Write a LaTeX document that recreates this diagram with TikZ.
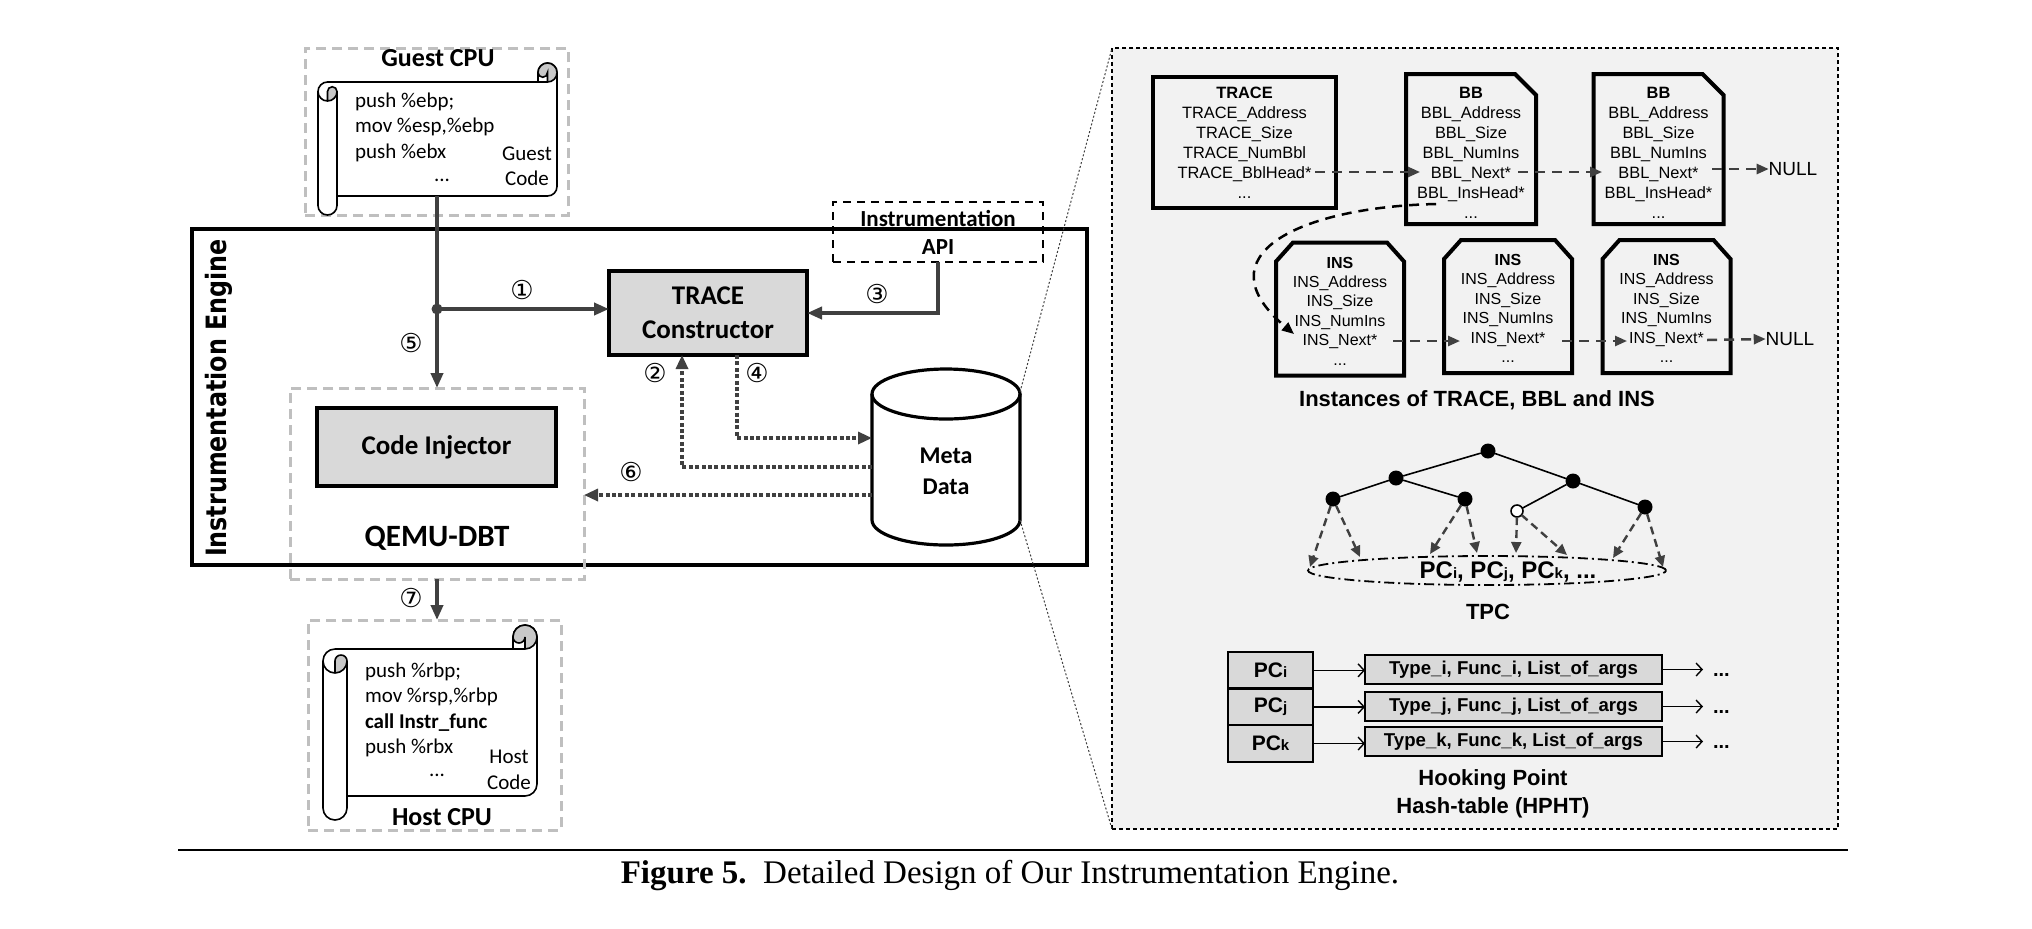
\documentclass[tikz,border=0pt]{standalone}
\usepackage{fontspec}
\setmainfont{Carlito}
\newfontfamily\arialf{Liberation Sans}
\newfontfamily\timesf{Liberation Serif}
\newfontfamily\dejaf{DejaVu Sans}
\newfontfamily\engf[FakeStretch=0.85]{DejaVu Sans}
\usetikzlibrary{arrows.meta,shapes.geometric}
\definecolor{agray}{HTML}{404040}
\definecolor{boxgray}{HTML}{D9D9D9}
\definecolor{dashgray}{HTML}{BFBFBF}
\definecolor{panelbg}{HTML}{F2F2F2}
\definecolor{curlgray}{HTML}{C8C8C8}
\newcommand{\smallsub}[1]{{\fontsize{7.5}{7.5}\selectfont #1}}
\newcommand{\drawscroll}[5]{%
  \pgfmathsetmacro{\scrL}{#1}\pgfmathsetmacro{\scrT}{#2}%
  \pgfmathsetmacro{\scrR}{#3}\pgfmathsetmacro{\scrB}{#4}%
  \pgfmathsetmacro{\scrC}{#5}\pgfmathsetmacro{\scrH}{#5/2}%
  \pgfmathsetmacro{\scrRh}{#5/4}\pgfmathsetmacro{\scrRq}{#5/8}%
  \draw[scrollline, fill=white] (\scrL,\scrT+\scrC+\scrH) arc[start angle=180,end angle=90,radius=\scrRh pt]
    -- (\scrR-\scrC,\scrT+\scrC) -- (\scrR-\scrC,\scrT+\scrH) arc[start angle=180,end angle=0,radius=\scrRh pt]
    -- (\scrR,\scrB-\scrC-\scrH) arc[start angle=0,end angle=-90,radius=\scrRh pt]
    -- (\scrL+\scrC,\scrB-\scrC) -- (\scrL+\scrC,\scrB-\scrH) arc[start angle=0,end angle=-180,radius=\scrRh pt] -- cycle;
  \fill[curlgray] (\scrR-\scrH,\scrT+\scrC) arc[start angle=-90,end angle=180,radius=\scrRh pt] arc[start angle=180,end angle=360,radius=\scrRq pt] -- cycle;
  \fill[curlgray] (\scrL+\scrH,\scrT+2*\scrC) arc[start angle=-90,end angle=0,radius=\scrRh pt] arc[start angle=0,end angle=180,radius=\scrRq pt] -- cycle;
  \draw[scrollline] (\scrR-\scrC,\scrT+\scrH) arc[start angle=180,end angle=0,radius=\scrRh pt];
  \draw[scrollline] (\scrR-\scrC,\scrT+\scrC) -- (\scrR-\scrH,\scrT+\scrC) arc[start angle=-90,end angle=0,radius=\scrRh pt];
  \draw[scrollline] (\scrR-\scrH,\scrT+\scrC) -- (\scrR-\scrH,\scrT+\scrH) arc[start angle=0,end angle=-180,radius=\scrRq pt];
  \draw[scrollline] (\scrL+\scrH,\scrT+2*\scrC) -- (\scrL+\scrH,\scrT+\scrC+\scrH) arc[start angle=180,end angle=0,radius=\scrRq pt] arc[start angle=0,end angle=-180,radius=\scrRh pt];
  \draw[scrollline] (\scrL+\scrC,\scrT+\scrC+\scrH) -- (\scrL+\scrC,\scrB-\scrC);
}
\newcommand{\bbshape}[1]{%
  \draw[panelbox] (#1.south west) -- (#1.north west) -- ([xshift=-10.5pt]#1.north east) -- ([yshift=-10.5pt]#1.north east) -- (#1.south east) -- cycle;}
\newcommand{\insshape}[1]{%
  \draw[panelbox] (#1.south west) -- ([yshift=-9.5pt]#1.north west) -- ([xshift=8.5pt]#1.north west) -- ([xshift=-8.5pt]#1.north east) -- ([yshift=-9.5pt]#1.north east) -- (#1.south east) -- cycle;}
\begin{document}
\begin{tikzpicture}[x=0.5pt,y=-0.5pt,
  every node/.style={inner sep=0pt,outer sep=0pt},
  scrollline/.style={draw=black,line width=0.8pt},
  graydash/.style={draw=dashgray,line width=1.5pt,dash pattern=on 5pt off 3pt},
  blackbox/.style={draw=black,line width=2pt,fill=boxgray},
  darkline/.style={draw=agray,line width=2pt},
  darkarrow/.style={darkline,-{Triangle[length=7.5pt,width=6pt]}},
  dotarrow/.style={draw=agray,line width=1.6pt,dash pattern=on 2pt off 1.2pt,-{Triangle[length=7pt,width=6pt]}},
  circnum/.style={font=\dejaf\fontsize{13}{13}\selectfont},
  codetxt/.style={font=\fontsize{10.5}{12.75}\selectfont,align=left},
  cpulbl/.style={font=\bfseries\fontsize{13}{13}\selectfont},
  thindot/.style={draw=black!75,line width=0.5pt,dash pattern=on 1pt off 1pt},
  panelbox/.style={draw=black,line width=2pt,fill=panelbg,line join=miter},
  paneltxt/.style={align=center,font=\arialf\fontsize{8.2}{10}\selectfont},
  instxt/.style={align=center,font=\arialf\fontsize{8}{9.7}\selectfont},
  bbframe/.style={minimum width=65pt,minimum height=75pt},
  insframe/.style={minimum width=64pt,minimum height=66.5pt},
  ptrarrow/.style={draw=agray,line width=1.25pt,dash pattern=on 5pt off 3.5pt,-{Triangle[length=6pt,width=5pt]}},
  nulltxt/.style={font=\arialf\fontsize{9.5}{9.5}\selectfont},
  arialbold/.style={font=\arialf\bfseries\fontsize{11}{14}\selectfont,align=center},
  treedot/.style={circle,fill=black,minimum size=7.5pt},
  treeopen/.style={circle,draw=black,fill=white,line width=0.8pt,minimum size=6pt},
  treeedge/.style={draw=black,line width=0.8pt},
  tpcarrow/.style={draw=agray,line width=1.2pt,dash pattern=on 4pt off 2.5pt,-{Triangle[length=5.5pt,width=5pt]}},
  pccell/.style={draw=black,line width=1.2pt,fill=boxgray,minimum width=42.5pt,minimum height=18.3pt,font=\arialf\bfseries\fontsize{10.5}{10.5}\selectfont},
  typebox/.style={draw=black,line width=1.2pt,fill=boxgray,minimum width=148.5pt,minimum height=14.5pt,font=\arialf\bfseries\fontsize{9.3}{9.3}\selectfont},
  thinarrow/.style={draw=black,line width=0.7pt,-{Straight Barb[length=3pt,width=6.5pt]}},
  hdots/.style={font=\arialf\bfseries\fontsize{10}{10}\selectfont,anchor=west}
]
\useasboundingbox (0,0) rectangle (2032,928);
\fill[white] (0,0) rectangle (2032,928);

% ---------- right panel ----------
\node[draw=black,line width=0.6pt,dash pattern=on 2pt off 1.5pt,fill=panelbg,minimum width=363pt,minimum height=390.5pt] (panel) at (1475,438.5) {};

% ---------- instrumentation engine ----------
\node[draw=black,line width=2pt,minimum width=447.5pt,minimum height=168pt] (engine) at (639.5,397) {};
\node[rotate=90,font=\engf\bfseries\fontsize{14}{14}\selectfont] (englbl) at (219,398) {Instrumentation Engine};

% guest cpu
\node[graydash,minimum width=131.5pt,minimum height=83.5pt] (guestbox) at (436.5,131.5) {};
\drawscroll{318}{63}{557}{215}{19}
\node[cpulbl] (guestlbl) at (438,58) {Guest CPU};
\node[codetxt,anchor=west] (gcode) at (355,127) {push \%ebp;\\mov \%esp,\%ebp\\push \%ebx};
\node[codetxt] (gdots) at (442,180) {...};
\node[codetxt,align=center] (gcodelbl) at (527,166) {Guest\\Code};

% host cpu
\node[graydash,minimum width=126.5pt,minimum height=105pt] (hostbox) at (434.5,725) {};
\drawscroll{323}{625}{537}{820}{24}
\node[codetxt,anchor=west] (hcode) at (365,710) {push \%rbp;\\mov \%rsp,\%rbp\\\textbf{call Instr\_func}\\push \%rbx};
\node[codetxt] (hdotsn) at (437,775) {...};
\node[codetxt,align=center] (hcodelbl) at (509,770) {Host\\Code};
\node[cpulbl] (hostlbl) at (442,817) {Host CPU};

% qemu
\node[graydash,minimum width=147pt,minimum height=95.5pt] (qemu) at (437,483.5) {};
\node[blackbox,minimum width=119.5pt,minimum height=39pt,font=\bfseries\fontsize{13.5}{13.5}\selectfont] (inj) at (436.5,447) {Code Injector};
\node[font=\bfseries\fontsize{15.5}{15.5}\selectfont] (qemulbl) at (437,538) {QEMU-DBT};

% trace constructor and api
\node[blackbox,minimum width=99pt,minimum height=42pt,font=\bfseries\fontsize{13.5}{17}\selectfont,align=center] (trace) at (708,313) {TRACE\\Constructor};
\node[draw=black,line width=1pt,dash pattern=on 4pt off 3pt,minimum width=105pt,minimum height=30pt,font=\bfseries\fontsize{11.5}{14}\selectfont,align=center] (api) at (938,232) {Instrumentation\\API};

% meta data cylinder
\draw[draw=black,line width=1.6pt,fill=white] (872,394) -- (872,520) arc[start angle=180,end angle=360,x radius=37pt,y radius=12.5pt] -- (1020,394) arc[start angle=0,end angle=180,x radius=37pt,y radius=12.5pt] -- cycle;
\draw[draw=black,line width=1.6pt] (872,394) arc[start angle=180,end angle=360,x radius=37pt,y radius=12.5pt];
\node[font=\bfseries\fontsize{12}{15.5}\selectfont,align=center] (meta) at (946,471) {Meta\\Data};

% connectors left
\coordinate (gs) at (437,196);
\node[circle,fill=agray,minimum size=5.5pt] (jdot) at (437,309) {};
\draw[darkline] (gs) -- (jdot.center);
\draw[darkarrow] (jdot.center) -- (qemu.north);
\draw[darkarrow] (jdot.center) -- (jdot.center -| trace.west);
\draw[darkarrow] (api.south) |- (trace.east);
\coordinate (m2) at (872,467);
\coordinate (m4) at (872,438);
\coordinate (m6) at (872,495);
\draw[dotarrow] (m2) -| ([xshift=-13pt]trace.south);
\draw[dotarrow] ([xshift=14.5pt]trace.south) |- (m4);
\draw[dotarrow] (m6) -- (m6 -| qemu.east);
\draw[darkarrow] (qemu.south) -- (qemu.south |- hostbox.north);

\node[circnum] (c1) at (522,290) {①};
\node[circnum] (c2) at (655,373) {②};
\node[circnum] (c3) at (877,294) {③};
\node[circnum] (c4) at (757,373) {④};
\node[circnum] (c5) at (411,343) {⑤};
\node[circnum] (c6) at (631,472) {⑥};
\node[circnum] (c7) at (411,598) {⑦};

% zoom lines
\coordinate (cyltop) at (1020,392);
\coordinate (cylbot) at (1020,520);
\draw[thindot] (cyltop) -- (panel.north west);
\draw[thindot] (cylbot) -- (panel.south west);

% ---------- panel contents ----------
\node[panelbox,minimum width=91.5pt,minimum height=65.5pt,paneltxt] (tracebox) at (1244.5,142.5) {\textbf{TRACE}\\TRACE\_Address\\TRACE\_Size\\TRACE\_NumBbl\\TRACE\_BblHead*\\...};
\node[bbframe] (bb1) at (1471,149) {};
\bbshape{bb1}
\node[paneltxt] (bb1txt) at (1471,153) {\textbf{BB}\\BBL\_Address\\BBL\_Size\\BBL\_NumIns\\BBL\_Next*\\BBL\_InsHead*\\...};
\node[bbframe] (bb2) at (1658.5,149) {};
\bbshape{bb2}
\node[paneltxt] (bb2txt) at (1658.5,153) {\textbf{BB}\\BBL\_Address\\BBL\_Size\\BBL\_NumIns\\BBL\_Next*\\BBL\_InsHead*\\...};
\node[nulltxt] (null1) at (1793,169) {NULL};
\node[insframe] (ins1) at (1340,309) {};
\insshape{ins1}
\node[instxt] (ins1txt) at (1340,311) {\textbf{INS}\\INS\_Address\\INS\_Size\\INS\_NumIns\\INS\_Next*\\...};
\node[insframe] (ins2) at (1508,306.5) {};
\insshape{ins2}
\node[instxt] (ins2txt) at (1508,308.5) {\textbf{INS}\\INS\_Address\\INS\_Size\\INS\_NumIns\\INS\_Next*\\...};
\node[insframe] (ins3) at (1666.5,306.5) {};
\insshape{ins3}
\node[instxt] (ins3txt) at (1666.5,308.5) {\textbf{INS}\\INS\_Address\\INS\_Size\\INS\_NumIns\\INS\_Next*\\...};
\node[nulltxt] (null2) at (1790,339) {NULL};

\coordinate (p1s) at (1315,172); \coordinate (p1e) at (1420,172);
\coordinate (p2s) at (1518,172); \coordinate (p2e) at (1602,172);
\coordinate (p3s) at (1712,169);
\coordinate (p4s) at (1436,204); \coordinate (p4e) at (1294,334);
\coordinate (p5s) at (1393,341); \coordinate (p5e) at (1460,341);
\coordinate (p6s) at (1562,341); \coordinate (p6e) at (1627,341);
\coordinate (p7s) at (1707,340);
\draw[ptrarrow] (p1s) -- (p1e);
\draw[ptrarrow] (p2s) -- (p2e);
\draw[ptrarrow] (p3s) -- (null1.west);
\draw[ptrarrow,draw=black] (p4s) .. controls (1300,207) and (1200,255) .. (p4e);
\draw[ptrarrow] (p5s) -- (p5e);
\draw[ptrarrow] (p6s) -- (p6e);
\draw[ptrarrow] (p7s) -- (null2.west);
\node[arialbold] (instlbl) at (1477,400) {Instances of TRACE, BBL and INS};

% tree
\node[ellipse,draw=black,line width=0.9pt,dash pattern=on 5pt off 2pt on 1pt off 2pt,minimum width=179pt,minimum height=14.5pt] (tpcell) at (1487,570.5) {};
\node[font=\arialf\bfseries\fontsize{12}{12}\selectfont] (pclist) at (1508,572) {PC\smallsub{i}, PC\smallsub{j}, PC\smallsub{k}, ...};
\node[treedot] (r0) at (1488,451) {};
\node[treedot] (rL) at (1396,478) {};
\node[treedot] (rR) at (1573,481) {};
\node[treedot] (rLL) at (1333,499) {};
\node[treedot] (rLR) at (1465,499) {};
\node[treeopen] (rRL) at (1517,511) {};
\node[treedot] (rRR) at (1645,507) {};
\draw[treeedge] (r0) -- (rL);
\draw[treeedge] (r0) -- (rR);
\draw[treeedge] (rL) -- (rLL);
\draw[treeedge] (rL) -- (rLR);
\draw[treeedge] (rR) -- (rRL);
\draw[treeedge] (rR) -- (rRR);
\coordinate (e1) at (1310,567); \coordinate (e2) at (1360,557);
\coordinate (e3) at (1430,554); \coordinate (e4) at (1477,553);
\coordinate (e5) at (1516,553); \coordinate (e6) at (1567,555);
\coordinate (e7) at (1613,558); \coordinate (e8) at (1663,567);
\draw[tpcarrow] (rLL) -- (e1);
\draw[tpcarrow] (rLL) -- (e2);
\draw[tpcarrow] (rLR) -- (e3);
\draw[tpcarrow] (rLR) -- (e4);
\draw[tpcarrow] (rRL) -- (e5);
\draw[tpcarrow] (rRL) -- (e6);
\draw[tpcarrow] (rRR) -- (e7);
\draw[tpcarrow] (rRR) -- (e8);
\node[arialbold] (tpclbl) at (1488,612) {TPC};

% hash table
\node[pccell] (pci) at (1270.5,670.3) {PC\smallsub{i}};
\node[pccell] (pcj) at (1270.5,706.9) {PC\smallsub{j}};
\node[pccell] (pck) at (1270.5,743.5) {PC\smallsub{k}};
\node[typebox] (typei) at (1513.5,669.5) {Type\_i, Func\_i, List\_of\_args};
\node[typebox] (typej) at (1513.5,706.5) {Type\_j, Func\_j, List\_of\_args};
\node[typebox] (typek) at (1513.5,741.5) {Type\_k, Func\_k, List\_of\_args};
\node[hdots] (dti) at (1713,675) {...};
\node[hdots] (dtj) at (1713,712) {...};
\node[hdots] (dtk) at (1713,747) {...};
\draw[thinarrow] (pci.east) -- (pci.east -| typei.west);
\draw[thinarrow] (pcj.east) -- (pcj.east -| typej.west);
\draw[thinarrow] (pck.east) -- (pck.east -| typek.west);
\draw[thinarrow,shorten >=5pt] (typei.east) -- (typei.east -| dti.west);
\draw[thinarrow,shorten >=5pt] (typej.east) -- (typej.east -| dtj.west);
\draw[thinarrow,shorten >=5pt] (typek.east) -- (typek.east -| dtk.west);
\node[arialbold] (hphtlbl) at (1493,794) {Hooking Point\\Hash-table (HPHT)};

% ---------- caption ----------
\coordinate (capl) at (178,850);
\coordinate (capr) at (1848,850);
\draw[line width=0.6pt] (capl) -- (capr);
\node[font=\timesf\fontsize{16.5}{16.5}\selectfont] (caption) at (1010,876) {\textbf{Figure 5.}\ \ Detailed Design of Our Instrumentation Engine.};
\end{tikzpicture}
\end{document}
